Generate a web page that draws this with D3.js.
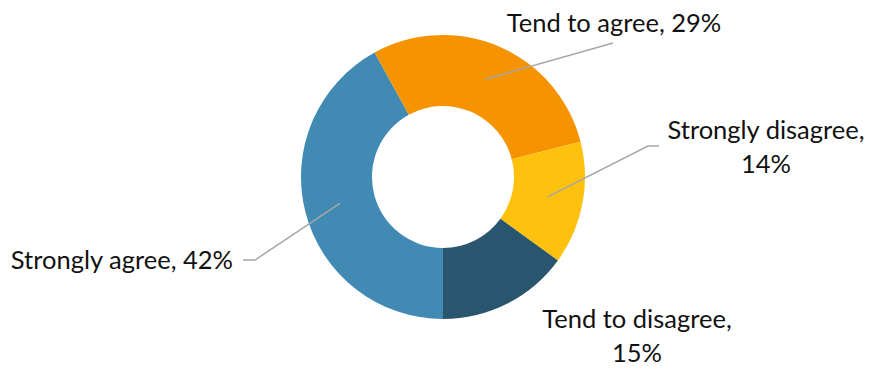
<!DOCTYPE html>
<html>
<head>
<meta charset="utf-8">
<script src="https://cdn.jsdelivr.net/npm/d3@7"></script>
<style>
  html, body { margin: 0; padding: 0; background: #fff; }
  svg text { font-family: Lato, "Open Sans", sans-serif; fill: #111; }
</style>
</head>
<body>
<svg id="chart" width="871" height="372"></svg>
<script>
// Survey responses, in drawing order (clockwise from the bottom)
const categories = ["Strongly agree", "Tend to agree", "Strongly disagree", "Tend to disagree"];
const shares = [42, 29, 14, 15];
const colors = ["#418AB3", "#F59300", "#FDC10E", "#29556E"];

const width = 871, height = 372;
const cx = 443, cy = 177, outerR = 142, innerR = 71;
const fontSize = 25.5;

const svg = d3.select("#chart");
const g = svg.append("g").attr("transform", `translate(${cx},${cy})`);

const pie = d3.pie()
  .sort(null)
  .value(d => d)
  .startAngle(Math.PI)
  .endAngle(3 * Math.PI);

const arc = d3.arc().innerRadius(innerR).outerRadius(outerR);
const arcs = pie(shares);

g.selectAll("path.slice")
  .data(arcs)
  .join("path")
  .attr("class", "slice")
  .attr("d", arc)
  .attr("fill", (d, i) => colors[i]);

// Label layout: text lines, anchor, and leader-line elbow (relative to the centre)
const labelLayout = [
  { lines: l => [l], x: -210, y: 92, anchor: "end", elbow: [[-188, 83], [-200, 83]] },
  { lines: l => [l], x: 171, y: -145, anchor: "middle", elbow: [[170, -134]] },
  { lines: l => [l.split(", ")[0] + ",", l.split(", ")[1]], x: 323, y: -38, anchor: "middle", elbow: [[205, -31], [216, -31]] },
  { lines: l => [l.split(", ")[0] + ",", l.split(", ")[1]], x: 194, y: 151, anchor: "middle", elbow: null }
];

arcs.forEach((d, i) => {
  const lay = labelLayout[i];
  const text = `${categories[i]}, ${shares[i]}%`;
  if (lay.elbow) {
    const pts = [arc.centroid(d), ...lay.elbow];
    g.append("path")
      .attr("d", d3.line()(pts))
      .attr("fill", "none")
      .attr("stroke", "#A6A6A6")
      .attr("stroke-width", 1.5);
  }
  const t = g.append("text")
    .attr("x", lay.x)
    .attr("y", lay.y)
    .attr("text-anchor", lay.anchor)
    .attr("font-size", fontSize);
  lay.lines(text).forEach((s, k) => {
    t.append("tspan").attr("x", lay.x).attr("dy", k === 0 ? 0 : 33.5).text(s);
  });
});
</script>
</body>
</html>
